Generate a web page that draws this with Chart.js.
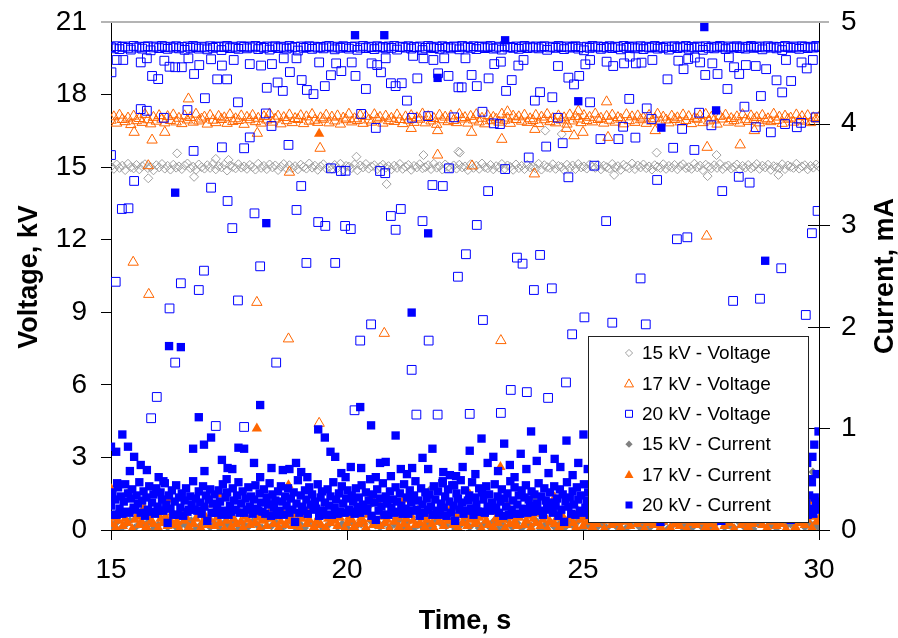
<!DOCTYPE html>
<html>
<head>
<meta charset="utf-8">
<script src="https://cdn.jsdelivr.net/npm/chart.js@4.4.0/dist/chart.umd.min.js"></script>
<style>
  html, body { margin: 0; padding: 0; background: #fff; }
  canvas { display: block; }
</style>
</head>
<body>
<canvas id="chart" width="898" height="638"></canvas>
<script>
// ---- sample clock ----
const T0 = 15;            // s, first sample
const DT_VOLT = 0.06;     // s, voltage logging interval
const DT_I20 = 0.03;      // s, 20 kV current logging interval
const DT_I17 = 0.05;      // s, 17 kV current logging interval
const DT_I15 = 0.1;       // s, 15 kV current logging interval

// ---- axis ticks ----
const timeTicks = [15, 20, 25, 30];
const voltageTicks = [0, 3, 6, 9, 12, 15, 18, 21];
const currentTicks = [0, 1, 2, 3, 4, 5];

// ---- legend labels ----
const seriesNames = ['15 kV - Voltage', '17 kV - Voltage', '20 kV - Voltage',
                     '15 kV - Current', '17 kV - Current', '20 kV - Current'];

// ---- voltage, kV (regular samples) ----
const volt20 = [
19.96,19.91,20.00,19.88,19.97,19.99,19.93,19.86,20.01,19.94,19.98,19.90,19.97,20.00,19.83,19.95,19.99,19.92,20.01,19.96,19.89,19.98,19.94,20.00,19.91,
19.97,19.85,19.99,19.93,20.01,19.96,19.90,19.98,19.95,19.87,20.00,19.93,19.97,19.99,19.84,19.96,20.01,19.92,19.98,19.94,19.89,20.00,19.97,19.91,19.99,
19.95,20.01,19.88,19.97,19.93,19.99,19.86,19.96,20.00,19.92,19.98,19.95,19.90,20.01,19.94,19.97,19.82,19.99,19.93,19.96,20.00,19.89,19.98,19.94,19.97,
19.91,19.99,20.01,19.95,19.87,19.98,19.93,20.00,19.96,19.90,19.97,19.99,19.85,19.94,20.01,19.92,19.98,19.96,19.88,20.00,19.95,19.97,19.91,19.99,19.93,
20.01,19.86,19.96,19.98,19.94,20.00,19.90,19.97,19.95,19.99,19.84,19.93,20.01,19.96,19.92,19.98,19.89,20.00,19.94,19.97,19.91,19.99,19.96,19.87,20.01,
19.95,19.98,19.93,20.00,19.88,19.97,19.99,19.92,19.96,20.01,19.90,19.94,19.98,19.86,20.00,19.95,19.97,19.93,19.99,19.89,19.96,20.01,19.92,19.98,19.94,
19.99,19.91,19.97,20.00,19.85,19.95,19.98,19.93,20.01,19.96,19.88,19.99,19.94,19.97,20.00,19.90,19.96,19.83,19.98,19.93,20.01,19.95,19.99,19.89,19.97,
19.94,20.00,19.92,19.98,19.96,19.87,20.01,19.93,19.97,19.99,19.91,19.95,20.00,19.88,19.98,19.94,19.96,20.01,19.90,19.97,19.93,19.99,19.86,19.96,20.00,
19.92,19.98,19.95,20.01,19.89,19.97,19.94,19.99,19.96,19.85,20.00,19.93,19.98,19.91,19.97,20.01,19.95,19.88,19.99,19.94,19.96,20.00,19.92,19.98,19.90,
19.97,20.01,19.93,19.96,19.99,19.87,19.95,20.00,19.94,19.98,19.91,19.97,19.84,20.01,19.96,19.93,19.99,19.95,19.89,20.00,19.97,19.92,19.98,19.94,20.01,
19.96];
const volt17 = [
16.94,17.08,16.82,17.15,16.97,16.88,17.03,16.76,17.11,16.92,17.01,16.85,17.18,16.96,16.79,17.06,16.90,17.13,16.98,16.83,17.09,16.93,17.16,16.87,17.02,
16.80,17.12,16.95,17.05,16.86,17.19,16.91,16.99,17.07,16.78,17.14,16.94,16.84,17.10,16.97,17.04,16.81,17.17,16.89,17.00,16.93,17.12,16.77,17.06,16.96,
17.14,16.88,17.02,16.82,17.09,16.95,17.20,16.86,16.99,17.11,16.79,17.05,16.92,17.16,16.84,17.01,16.97,17.13,16.80,17.08,16.90,17.18,16.94,16.85,17.04,
16.98,17.15,16.83,17.07,16.91,17.12,16.78,17.03,16.96,17.19,16.87,17.00,16.93,17.14,16.81,17.10,16.95,16.86,17.17,16.99,17.06,16.82,17.11,16.92,17.02,
16.89,17.16,16.97,16.80,17.08,16.94,17.13,16.85,17.04,16.98,17.20,16.83,17.09,16.91,17.01,16.77,17.15,16.96,17.07,16.88,17.12,16.93,16.84,17.18,16.99,
17.05,16.82,17.10,16.95,17.17,16.87,17.02,16.79,17.13,16.92,17.06,16.98,16.86,17.19,16.94,17.03,16.81,17.11,16.97,17.08,16.90,17.15,16.85,17.00,16.93,
17.14,16.80,17.07,16.96,17.18,16.88,17.01,16.83,17.12,16.95,17.04,16.78,17.16,16.91,17.09,16.99,16.84,17.13,16.93,17.06,16.87,17.20,16.97,17.02,16.82,
17.10,16.94,17.15,16.86,17.05,16.98,16.79,17.17,16.92,17.08,16.85,17.12,16.96,17.03,16.81,17.14,16.90,17.00,17.19,16.88,17.07,16.95,16.83,17.11,16.97,
17.04,16.87,17.16,16.93,17.09,16.80,17.02,16.98,17.13,16.84,17.18,16.91,17.06,16.95,16.78,17.10,16.99,17.15,16.86,17.01,16.92,17.08,16.82,17.17,16.96,
16.89,17.12,16.97,17.05,16.83,17.14,16.94,17.00,16.88,17.19,16.93,17.07,16.81,17.11,16.98,17.03,16.86,17.16,16.95,17.09,16.90,17.13,16.84,17.04,16.99,
17.06];
const volt15 = [
15.02,14.93,15.11,14.97,15.06,14.88,15.14,15.00,14.95,15.09,14.91,15.04,15.12,14.96,15.01,14.87,15.08,14.99,15.13,14.94,15.05,14.90,15.10,14.98,15.03,
14.92,15.07,15.15,14.96,15.02,14.89,15.11,15.00,14.94,15.08,14.97,15.13,14.91,15.04,14.99,15.10,14.86,15.06,15.01,14.95,15.12,14.98,15.03,14.93,15.09,
15.00,14.90,15.14,14.97,15.05,14.92,15.11,14.99,15.07,14.88,15.02,15.13,14.95,15.08,14.96,15.04,14.91,15.10,15.01,14.94,15.15,14.98,15.06,14.89,15.03,
15.12,14.95,15.00,14.93,15.09,14.97,15.14,14.90,15.05,15.02,14.96,15.11,14.87,15.07,14.99,15.13,14.94,15.03,15.08,14.92,15.01,15.10,14.98,15.04,14.91,
15.06,14.97,15.13,14.93,15.02,15.09,14.89,15.05,14.99,15.12,14.95,15.00,15.08,14.92,15.14,14.98,15.04,14.90,15.11,15.01,14.96,15.07,14.94,15.10,14.99,
15.03,14.88,15.12,14.97,15.06,14.93,15.15,15.00,14.95,15.09,14.91,15.04,14.98,15.13,14.94,15.07,15.01,14.89,15.11,14.96,15.05,14.92,15.10,14.99,15.02,
14.95,15.14,14.90,15.08,15.00,14.97,15.12,14.93,15.05,15.01,14.88,15.10,14.96,15.07,14.92,15.13,14.99,15.03,14.94,15.11,15.02,14.97,15.09,14.91,15.06,
15.00,14.94,15.13,14.98,15.04,14.89,15.10,15.02,14.95,15.15,14.92,15.07,14.99,15.11,14.96,15.03,14.90,15.08,15.01,14.97,15.12,14.93,15.05,14.98,15.09,
14.91,15.04,15.12,14.96,15.00,14.93,15.14,14.99,15.06,14.88,15.10,15.02,14.95,15.08,14.97,15.13,14.92,15.03,15.07,14.94,15.01,15.11,14.90,15.05,14.98,
15.09,14.95,15.02,15.13,14.93,15.06,14.99,15.10,14.89,15.04,15.00,14.96,15.12,14.92,15.07,15.01,14.97,15.14,14.94,15.03,15.08,14.91,15.05,14.98,15.11,
15.02];

// ---- voltage dips and spikes, [time s, kV] ----
const volt20Dips = [
[15.01,18.92],[15.12,19.43],[15.26,19.43],[15.63,19.33],[15.76,19.5],[15.87,18.77],[16.0,18.64],[16.13,19.4],[16.24,19.15],[16.36,19.13],
[16.5,19.13],[16.64,19.5],[16.76,18.85],[16.87,19.22],[16.99,17.85],[17.12,19.46],[17.25,18.63],[17.46,18.63],[17.35,19.2],[17.6,19.43],
[17.69,17.68],[17.94,19.26],[18.18,19.2],[18.3,18.28],[18.41,19.26],[18.53,18.5],[18.66,19.5],[18.64,18.15],[18.79,18.93],[18.93,19.5],
[19.04,18.6],[19.15,18.19],[19.29,18.02],[19.41,19.33],[19.53,18.35],[19.66,18.8],[19.77,19.29],[19.88,18.97],[20.1,19.33],[20.18,18.77],
[20.3,17.2],[20.4,18.23],[20.52,19.29],[20.64,19.22],[20.72,18.92],[20.82,19.5],[20.93,18.47],[21.03,18.35],[21.16,18.47],[21.27,17.75],
[21.4,19.6],[21.49,18.67],[21.62,19.5],[21.83,19.43],[21.93,18.88],[22.06,19.5],[22.15,18.77],[22.36,18.3],
[15.63,17.4],[15.76,17.33],[16.12,17.04],[16.62,17.36],[18.28,17.22],[18.4,16.7],[17.94,16.23],[18.76,15.92],[17.35,15.82],[17.82,15.78],
[16.75,15.67],[15.0,15.5],[20.61,16.62],[21.38,17.04],[21.72,17.11],[22.27,17.06],[19.66,14.95],[19.87,14.84],[19.97,14.85],[20.7,14.84],
[20.81,14.75],[22.16,14.95],[15.49,14.43],[17.12,14.15],[19.03,14.22],[21.81,14.26],[22.03,14.22],[17.47,13.6],
[15.23,13.27],[15.37,13.3],[18.04,13.09],[18.93,13.23],[17.57,12.48],[19.39,12.73],[19.54,12.57],[19.96,12.57],[20.08,12.44],[20.93,12.98],
[21.14,13.27],[21.03,12.41],[21.6,12.77],[15.1,10.26],[16.97,10.72],[16.48,10.2],[16.86,9.92],[18.16,10.9],[19.14,11.04],[19.75,11.04],
[17.69,9.49],[16.24,9.16],[22.35,10.47],[20.51,8.5],[20.28,7.83],[21.73,7.83],[16.36,6.92],[18.5,6.92],[21.37,6.62],
[15.97,5.5],[15.85,4.62],[17.22,4.3],[17.82,4.26],[20.16,4.95],[21.47,4.77],[21.92,4.77],
[22.51,19.5],[22.64,18.81],[22.75,18.35],[22.43,18.3],[22.87,17.29],[23.0,18.67],[23.12,19.26],[23.26,19.36],[23.11,16.81],[23.24,16.78],
[23.37,18.15],[23.49,18.6],[23.63,19.2],[23.74,19.43],[23.98,17.75],[24.09,18.1],[24.22,15.85],[23.85,15.4],[24.35,17.89],[24.47,19.18],
[24.47,17.04],[24.57,15.99],[24.69,18.7],[24.81,18.42],[24.92,18.77],[24.69,14.58],[25.05,19.25],[25.15,19.43],[25.15,17.68],[25.24,15.06],
[25.37,16.16],[23.35,14.92],[22.99,14.01],[25.5,19.36],[25.64,19.18],[25.87,19.29],[25.99,19.57],[26.12,19.29],[26.24,19.32],[26.47,19.43],
[25.75,16.16],[25.98,17.82],[26.11,16.22],[26.35,17.43],[26.45,16.99],[25.85,16.67],[26.57,14.47],[26.79,18.63],[26.91,15.8],[27.02,19.4],
[27.13,19.05],[27.23,19.47],[27.37,19.53],[27.48,19.33],[27.74,19.29],[27.1,16.58],[27.36,15.71],[27.46,17.25],[27.59,18.81],[27.85,18.85],
[27.72,16.73],[27.95,14.01],[28.06,18.23],[28.09,19.54],[28.2,19.13],[28.31,18.85],[28.3,14.6],[28.53,14.36],[28.42,17.5],[28.45,19.22],
[28.66,19.18],[28.88,19.05],[28.66,16.65],[28.77,17.94],[28.98,16.44],[29.1,18.59],[29.22,18.09],[29.41,18.56],[29.28,16.78],[29.53,16.65],
[29.62,16.83],[29.3,19.43],[29.63,19.33],[29.74,19.08],[29.87,19.43],[29.93,17.06],
[29.97,13.19],[29.85,12.27],[22.75,12.61],[25.49,12.77],[26.99,12.02],[27.21,12.1],[22.52,11.4],[23.6,11.26],[23.72,11.01],[24.09,11.37],
[26.22,10.4],[29.2,10.82],[23.96,9.92],[24.34,9.99],[28.18,9.47],[28.75,9.56],[22.88,8.68],[25.03,8.79],[25.62,8.57],[26.33,8.5],
[24.77,8.09],[29.72,8.89],[23.47,5.79],[23.81,5.7],[24.26,5.46],[24.64,6.1],[22.6,4.8],[23.26,4.84]];
const volt17Dips = [
[16.64,17.82],[15.49,16.44],[16.14,16.44],[15.87,16.12],[18.1,16.4],[19.43,15.78],[21.92,15.5],[21.92,16.51],[21.36,16.6],[15.79,15.06],
[18.78,14.79],[15.47,11.07],[15.8,9.74],[18.09,9.41],[18.76,7.9],[20.79,8.13],[19.41,4.41],[25.5,17.7],[22.64,16.44],[23.28,16.15],
[23.98,16.56],[24.65,16.6],[24.81,16.3],[25.0,16.44],[25.53,16.23],[26.53,16.51],[23.4,17.29],[24.9,17.32],[27.63,15.82],[28.33,15.92],
[22.65,15.05],[23.97,14.72],[28.63,16.51],[27.62,12.15],[23.26,7.83]];
const volt15Dips = [
[16.4,15.57],[17.22,15.34],[17.49,15.3],[15.79,14.54],[16.76,14.6],[20.2,15.43],[21.62,15.5],[20.84,14.3],[22.36,15.64],[24.2,16.51],
[24.55,16.37],[26.56,15.6],[27.83,15.5],[27.64,14.63],[29.14,14.68],[22.39,15.6],[25.66,14.68]];

// ---- current, mA (regular samples) ----
const curr20 = [
0.24,0.37,0.15,0.30,0.15,0.42,0.21,0.33,0.16,0.28,0.45,0.18,0.36,0.17,0.31,0.40,0.22,0.20,0.34,0.26,0.47,0.17,0.29,0.38,0.14,
0.32,0.20,0.43,0.18,0.27,0.35,0.16,0.41,0.23,0.19,0.37,0.30,0.19,0.46,0.25,0.07,0.34,0.21,0.39,0.15,0.28,0.44,0.15,0.32,0.22,
0.36,0.14,0.29,0.41,0.18,0.20,0.33,0.25,0.48,0.20,0.31,0.19,0.38,0.27,0.16,0.43,0.23,0.34,0.09,0.30,0.40,0.17,0.26,0.35,0.17,
0.22,0.39,0.28,0.15,0.45,0.19,0.32,0.37,0.15,0.24,0.18,0.41,0.29,0.20,0.34,0.47,0.17,0.26,0.38,0.17,0.31,0.20,0.42,0.23,0.33,
0.16,0.30,0.44,0.21,0.19,0.36,0.27,0.18,0.40,0.16,0.32,0.25,0.46,0.14,0.35,0.22,0.29,0.15,0.38,0.19,0.43,0.28,0.15,0.33,0.24,
0.41,0.17,0.31,0.20,0.37,0.08,0.26,0.49,0.17,0.34,0.23,0.19,0.39,0.30,0.16,0.42,0.25,0.35,0.20,0.28,0.21,0.45,0.14,0.32,0.38,
0.19,0.27,0.15,0.40,0.24,0.33,0.15,0.47,0.22,0.30,0.16,0.36,0.18,0.43,0.26,0.17,0.31,0.39,0.20,0.18,0.34,0.28,0.16,0.41,0.23,
0.32,0.17,0.44,0.25,0.19,0.37,0.21,0.29,0.50,0.14,0.35,0.27,0.10,0.40,0.19,0.31,0.23,0.46,0.15,0.33,0.26,0.15,0.38,0.22,0.30,
0.17,0.42,0.28,0.18,0.36,0.24,0.16,0.45,0.21,0.32,0.16,0.39,0.27,0.19,0.34,0.48,0.20,0.29,0.14,0.41,0.25,0.17,0.37,0.31,0.20,
0.35,0.23,0.15,0.43,0.30,0.19,0.38,0.15,0.26,0.46,0.22,0.33,0.14,0.40,0.28,0.17,0.44,0.24,0.09,0.36,0.31,0.20,0.49,0.27,0.16,
0.39,0.19,0.29,0.34,0.21,0.47,0.15,0.32,0.25,0.18,0.41,0.18,0.37,0.30,0.17,0.43,0.23,0.35,0.19,0.27,0.20,0.45,0.22,0.33,0.17,
0.28,0.40,0.14,0.31,0.23,0.36,0.15,0.48,0.20,0.29,0.42,0.16,0.25,0.34,0.16,0.39,0.21,0.32,0.44,0.17,0.30,0.24,0.38,0.18,0.35,
0.19,0.26,0.46,0.19,0.33,0.15,0.41,0.29,0.22,0.20,0.37,0.27,0.17,0.43,0.24,0.31,0.14,0.40,0.20,0.35,0.08,0.28,0.47,0.23,0.32,
0.16,0.38,0.25,0.15,0.42,0.30,0.19,0.34,0.17,0.45,0.22,0.29,0.37,0.15,0.27,0.40,0.18,0.33,0.20,0.36,0.24,0.44,0.21,0.31,0.14,
0.39,0.20,0.28,0.19,0.35,0.46,0.17,0.30,0.23,0.41,0.16,0.32,0.26,0.38,0.15,0.43,0.21,0.29,0.17,0.36,0.25,0.18,0.40,0.27,0.34,
0.22,0.31,0.14,0.44,0.19,0.27,0.37,0.15,0.33,0.24,0.16,0.42,0.29,0.08,0.35,0.21,0.39,0.26,0.17,0.47,0.18,0.32,0.23,0.38,0.15,
0.28,0.20,0.36,0.25,0.41,0.17,0.30,0.22,0.45,0.14,0.33,0.27,0.19,0.39,0.20,0.34,0.48,0.16,0.29,0.24,0.37,0.15,0.31,0.43,0.19,
0.35,0.26,0.17,0.40,0.21,0.32,0.09,0.38,0.28,0.17,0.44,0.23,0.30,0.15,0.36,0.25,0.19,0.42,0.19,0.33,0.27,0.46,0.14,0.31,0.22,
0.15,0.37,0.24,0.18,0.43,0.29,0.16,0.34,0.21,0.40,0.17,0.32,0.26,0.16,0.39,0.23,0.35,0.17,0.45,0.28,0.20,0.36,0.19,0.30,0.25,
0.41,0.15,0.33,0.22,0.38,0.10,0.27,0.44,0.19,0.31,0.24,0.14,0.37,0.29,0.18,0.42,0.26,0.15,0.34,0.21,0.47,0.16,0.32,0.28,0.23,
0.20];
const curr17 = [
0.06,0.12,0.02,0.09,0.15,0.04,0.11,0.07,0.18,0.01,0.10,0.13,0.05,0.08,0.22,0.03,0.14,0.09,0.06,0.16,0.02,0.11,0.07,0.13,0.04,
0.10,0.17,0.05,0.08,0.01,0.14,0.09,0.12,0.03,0.20,0.06,0.11,0.15,0.02,0.08,0.13,0.05,0.10,0.25,0.04,0.12,0.07,0.16,0.01,0.09,
0.14,0.03,0.11,0.06,0.19,0.08,0.02,0.13,0.10,0.05,0.16,0.07,0.12,0.01,0.09,0.15,0.04,0.11,0.21,0.06,0.13,0.02,0.08,0.17,0.05,
0.09,0.12,0.04,0.15,0.07,0.01,0.11,0.14,0.06,0.10,0.23,0.03,0.08,0.13,0.05,0.18,0.02,0.11,0.07,0.14,0.09,0.04,0.12,0.16,0.01,
0.07,0.13,0.10,0.03,0.17,0.06,0.12,0.08,0.02,0.15,0.11,0.05,0.09,0.27,0.04,0.13,0.07,0.10,0.01,0.16,0.08,0.12,0.03,0.14,0.06,
0.11,0.02,0.15,0.09,0.05,0.19,0.07,0.12,0.03,0.10,0.14,0.06,0.01,0.13,0.08,0.17,0.04,0.11,0.09,0.22,0.05,0.12,0.02,0.15,0.07,
0.13,0.04,0.10,0.16,0.06,0.08,0.12,0.01,0.14,0.09,0.05,0.18,0.03,0.11,0.07,0.15,0.10,0.02,0.24,0.06,0.13,0.08,0.04,0.12,0.17,
0.05,0.09,0.14,0.02,0.11,0.07,0.16,0.04,0.10,0.13,0.01,0.08,0.20,0.06,0.12,0.03,0.15,0.09,0.05,0.11,0.14,0.07,0.02,0.18,0.10,
0.04,0.12,0.08,0.15,0.03,0.10,0.06,0.13,0.19,0.01,0.09,0.14,0.05,0.11,0.07,0.16,0.02,0.12,0.08,0.26,0.04,0.10,0.13,0.06,0.15,
0.09,0.01,0.12,0.07,0.14,0.05,0.11,0.17,0.03,0.08,0.13,0.10,0.02,0.15,0.06,0.21,0.04,0.12,0.09,0.01,0.14,0.07,0.11,0.05,0.16,
0.08,0.13,0.03,0.10,0.06,0.18,0.02,0.12,0.09,0.15,0.04,0.11,0.07,0.14,0.01,0.10,0.23,0.05,0.13,0.08,0.03,0.16,0.06,0.12,0.09,
0.14,0.05,0.11,0.02,0.17,0.08,0.13,0.04,0.10,0.06,0.15,0.01,0.12,0.09,0.19,0.03,0.11,0.07,0.14,0.05,0.10,0.28,0.02,0.13,0.08,
0.11];
const curr15 = [
0.03,0.07,0.01,0.05,0.09,0.02,0.06,0.04,0.08,0.01,0.05,0.10,0.03,0.07,0.02,0.06,0.04,0.09,0.01,0.05,0.08,0.03,0.06,0.02,0.07,
0.04,0.09,0.01,0.06,0.03,0.08,0.05,0.02,0.10,0.04,0.07,0.01,0.05,0.09,0.03,0.06,0.02,0.08,0.04,0.07,0.01,0.05,0.10,0.03,0.06,
0.02,0.08,0.04,0.06,0.01,0.09,0.05,0.03,0.07,0.02,0.06,0.10,0.04,0.08,0.01,0.05,0.03,0.07,0.02,0.09,0.06,0.04,0.08,0.01,0.05,
0.07,0.03,0.09,0.02,0.06,0.04,0.08,0.01,0.05,0.10,0.03,0.07,0.02,0.06,0.04,0.09,0.01,0.05,0.08,0.03,0.06,0.02,0.07,0.04,0.09,
0.01,0.05,0.08,0.03,0.06,0.02,0.10,0.04,0.07,0.01,0.05,0.09,0.03,0.06,0.02,0.08,0.04,0.07,0.01,0.05,0.10,0.03,0.06,0.02,0.08,
0.04,0.07,0.01,0.06,0.09,0.03,0.05,0.02,0.08,0.04,0.06,0.01,0.07,0.10,0.03,0.05,0.02,0.09,0.04,0.06,0.01,0.08,0.03,0.07,0.05,
0.02];

// ---- current spikes, [time s, mA] ----
const curr20Spikes = [
[20.17,4.87],[20.79,4.87],[21.92,4.45],[16.36,3.32],[23.35,4.82],[27.57,4.95],[24.9,4.22],[27.82,4.13],[26.66,3.96],[18.29,3.02],
[21.72,2.92],[21.37,2.14],[16.23,1.81],[16.48,1.8],[28.86,2.65],[29.99,0.97],
[15.0,0.82],[15.11,0.77],[15.24,0.94],[15.36,0.82],[15.49,0.72],[15.4,0.58],[15.63,0.64],[15.76,0.59],[15.13,0.46],[16.01,0.52],
[16.11,0.48],[16.74,0.8],[16.86,1.11],[16.97,0.84],[17.12,0.91],[16.98,0.58],[17.35,0.69],[17.47,0.61],[17.57,0.6],[17.45,0.5],
[17.7,0.81],[17.82,0.8],[18.03,0.66],[18.16,1.23],[18.16,0.52],[18.4,0.61],[18.64,0.59],[18.78,0.6],[18.92,0.66],[19.03,0.57],
[19.16,0.52],[19.39,0.99],[19.53,0.91],[19.65,0.77],[19.75,0.72],[19.88,0.56],[19.97,0.52],[20.08,0.62],[20.3,0.61],[20.28,1.21],
[20.51,1.03],[20.7,0.66],[20.82,0.67],[20.61,0.52],[20.93,0.53],[21.03,0.93],[21.14,0.6],[21.27,0.55],[21.38,0.61],[21.6,0.71],
[21.72,0.6],[21.81,0.8],[22.04,0.57],[22.18,0.54],[22.31,0.53],[22.03,0.48],[22.27,0.44],
[22.45,0.62],[22.6,0.78],[22.72,0.55],[22.85,0.9],[22.98,0.66],[23.1,0.72],[23.2,0.58],[23.33,0.85],[23.45,0.64],[23.55,0.52],
[23.68,0.75],[23.8,0.6],[23.9,0.97],[24.02,0.68],[24.15,0.8],[24.27,0.56],[24.4,0.7],[24.52,0.62],[24.65,0.88],[24.78,0.54],
[24.9,0.66],[25.01,0.94],[25.1,0.6],[29.75,0.66],[29.82,0.5],[29.9,0.84],[29.95,0.55],[29.86,0.72]];
const curr17Spikes = [
[19.41,3.9],[18.09,1.0],[15.01,0.4],[18.76,0.44],[23.25,0.62],[16.2,0.3],[17.3,0.35],[20.5,0.33],[21.2,0.3],[22.6,0.35],
[24.4,0.32],[29.95,0.2]];
const curr15Spikes = [[15.4,0.39],[21.79,0.41],[29.87,0.57],[20.5,0.25],[24.0,0.3]];

// ---- build point lists: regular samples followed by the logged spikes ----
function toPoints(start, step, samples, spikes) {
  const pts = samples.map((v, i) => ({ x: start + i * step, y: v }));
  spikes.forEach(([t, v]) => pts.push({ x: t, y: v }));
  return pts;
}

const BLUE = '#0000ff', ORANGE = '#ff6600', GREY_LIGHT = '#a0a0a0', GREY = '#808080';
const FONT = "'Liberation Sans', Arial, sans-serif";

const datasets = [
  { label: seriesNames[0], data: toPoints(T0, DT_VOLT, volt15, volt15Dips), yAxisID: 'y',
    pointStyle: 'rectRot', pointRadius: 4.5, borderColor: GREY_LIGHT, backgroundColor: 'rgba(0,0,0,0)', borderWidth: 1 },
  { label: seriesNames[1], data: toPoints(T0, DT_VOLT, volt17, volt17Dips), yAxisID: 'y',
    pointStyle: 'triangle', pointRadius: 6, borderColor: ORANGE, backgroundColor: 'rgba(0,0,0,0)', borderWidth: 1 },
  { label: seriesNames[2], data: toPoints(T0, DT_VOLT, volt20, volt20Dips), yAxisID: 'y',
    pointStyle: 'rect', pointRadius: 6.2, borderColor: BLUE, backgroundColor: 'rgba(0,0,0,0)', borderWidth: 1 },
  { label: seriesNames[3], data: toPoints(T0, DT_I15, curr15, curr15Spikes), yAxisID: 'y1',
    pointStyle: 'rectRot', pointRadius: 4.5, borderColor: GREY, backgroundColor: GREY, borderWidth: 0 },
  { label: seriesNames[4], data: toPoints(T0, DT_I17, curr17, curr17Spikes), yAxisID: 'y1',
    pointStyle: 'triangle', pointRadius: 6, borderColor: ORANGE, backgroundColor: ORANGE, borderWidth: 0 },
  { label: seriesNames[5], data: toPoints(T0, DT_I20, curr20, curr20Spikes), yAxisID: 'y1',
    pointStyle: 'rect', pointRadius: 5.9, borderColor: BLUE, backgroundColor: BLUE, borderWidth: 0 }
];
// later series are painted over earlier ones
datasets.forEach((d, i) => { d.order = datasets.length - i; d.showLine = false; d.pointHoverRadius = d.pointRadius; });

// legend symbols
function legendSymbol(ctx, style, filled, color, x, y) {
  ctx.beginPath();
  if (style === 'rectRot') {
    const r = 3.6;
    ctx.moveTo(x, y - r); ctx.lineTo(x + r, y); ctx.lineTo(x, y + r); ctx.lineTo(x - r, y);
  } else if (style === 'triangle') {
    ctx.moveTo(x, y - 4.5); ctx.lineTo(x + 4.5, y + 3.5); ctx.lineTo(x - 4.5, y + 3.5);
  } else {
    ctx.rect(x - 3.5, y - 3.5, 7, 7);
  }
  ctx.closePath();
  if (filled) { ctx.fillStyle = color; ctx.fill(); }
  else { ctx.strokeStyle = color; ctx.lineWidth = 1; ctx.stroke(); }
}

const decorations = {
  id: 'decorations',
  beforeDatasetsDraw(chart) {
    const { ctx, chartArea: a, scales } = chart;
    ctx.save();
    // grey frame line along the top of the plot
    ctx.strokeStyle = '#b4b4b4';
    ctx.lineWidth = 2;
    ctx.beginPath(); ctx.moveTo(a.left - 10, a.top); ctx.lineTo(a.right + 10, a.top); ctx.stroke();
    // current-axis tick marks cross the axis line
    ctx.strokeStyle = '#000';
    ctx.lineWidth = 1;
    currentTicks.slice(0, -1).forEach(v => {
      const y = Math.round(scales.y1.getPixelForValue(v)) + 0.5;
      ctx.beginPath(); ctx.moveTo(a.right - 11, y); ctx.lineTo(a.right + 11, y); ctx.stroke();
    });
    ctx.restore();
  },
  afterDatasetsDraw(chart) {
    const { ctx } = chart;
    ctx.save();
    // legend box
    const L = 588, T = 336, W = 220, H = 186;
    ctx.fillStyle = '#fff';
    ctx.fillRect(L, T, W, H);
    ctx.strokeStyle = '#222';
    ctx.lineWidth = 1;
    ctx.strokeRect(L + 0.5, T + 0.5, W, H);
    ctx.font = '19px ' + FONT;
    ctx.textBaseline = 'middle';
    ctx.textAlign = 'left';
    chart.data.datasets.forEach((d, i) => {
      const y = T + 17 + i * 30.4;
      const filled = d.yAxisID === 'y1';
      legendSymbol(ctx, d.pointStyle, filled, filled ? d.backgroundColor : d.borderColor, 629, y);
      ctx.fillStyle = '#000';
      ctx.fillText(d.label, 642, y + 1);
    });
    // axis titles
    ctx.font = 'bold 27px ' + FONT;
    ctx.fillStyle = '#000';
    ctx.textAlign = 'center';
    ctx.textBaseline = 'middle';
    ctx.fillText('Time, s', 465, 622);
    ctx.save(); ctx.translate(30, 277); ctx.rotate(-Math.PI / 2); ctx.fillText('Voltage, kV', 0, 0); ctx.restore();
    ctx.save(); ctx.translate(886, 276); ctx.rotate(-Math.PI / 2); ctx.fillText('Current, mA', 0, 0); ctx.restore();
    ctx.restore();
  }
};

const tickFont = { family: FONT, size: 28 };

// the plot frame is fixed: left 111, right 819, top 22, bottom 530
function fixVertical(width) {
  return s => { s.width = width; s.paddingTop = 0; s.paddingBottom = 0; };
}

new Chart(document.getElementById('chart'), {
  type: 'scatter',
  data: { datasets },
  options: {
    responsive: false,
    animation: false,
    devicePixelRatio: 1,
    layout: { padding: { top: 22, left: 0, right: 0, bottom: 0 } },
    plugins: { legend: { display: false }, tooltip: { enabled: false } },
    scales: {
      x: {
        type: 'linear', min: timeTicks[0], max: timeTicks[timeTicks.length - 1],
        afterBuildTicks(s) { s.ticks = timeTicks.map(v => ({ value: v })); },
        ticks: { font: tickFont, color: '#000', padding: 13, maxRotation: 0 },
        grid: { drawOnChartArea: false, color: '#000', tickLength: 10 },
        border: { color: '#000', width: 1 },
        afterFit(s) { s.height = 108; s.paddingLeft = 0; s.paddingRight = 0; }
      },
      y: {
        position: 'left', min: 0, max: 21,
        afterBuildTicks(s) { s.ticks = voltageTicks.map(v => ({ value: v })); },
        ticks: { font: tickFont, color: '#000', padding: 14 },
        grid: { drawOnChartArea: false, color: '#000', tickLength: 10 },
        border: { color: '#000', width: 1 },
        afterFit: fixVertical(111)
      },
      y1: {
        position: 'right', min: 0, max: 5,
        afterBuildTicks(s) { s.ticks = currentTicks.map(v => ({ value: v })); },
        ticks: { font: tickFont, color: '#000', padding: 22 },
        grid: { display: false, drawTicks: false },
        border: { display: true, color: '#000', width: 1 },
        afterFit: fixVertical(79)
      }
    }
  },
  plugins: [decorations]
});
</script>
</body>
</html>
